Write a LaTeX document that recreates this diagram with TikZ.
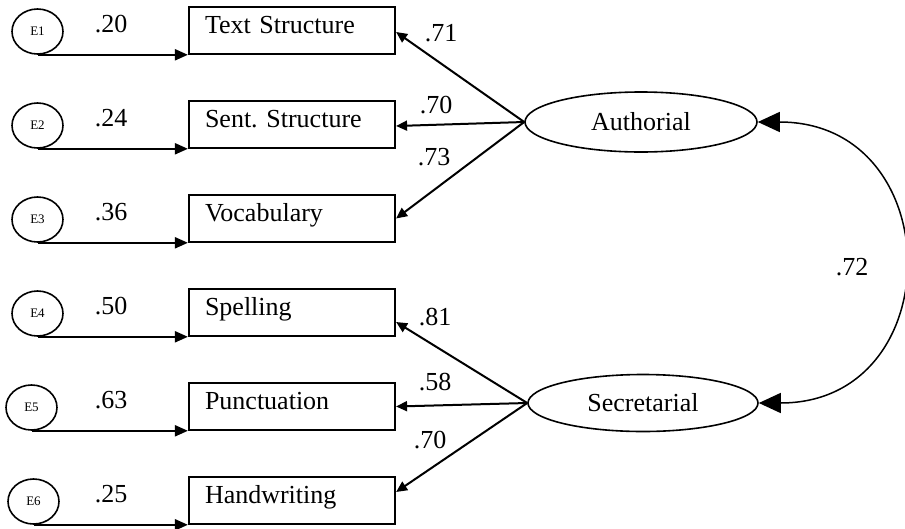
\documentclass[tikz,border=0pt]{standalone}
\usepackage{fontspec}
\setmainfont{Liberation Serif}
\usetikzlibrary{arrows.meta,shapes.geometric,calc}
\frenchspacing
\begin{document}
\begin{tikzpicture}[x=1pt,y=-1pt,
  every node/.style={font=\fontsize{26}{30}\selectfont},
  obs/.style={draw, line width=2.2pt, minimum width=206pt, minimum height=47pt,
    inner xsep=16pt, inner ysep=0pt, text width=174pt, align=left,
    text height=17pt, text depth=12pt},
  err/.style={draw, ellipse, line width=1.6pt, minimum width=51pt, minimum height=45pt,
    inner sep=0pt, font=\fontsize{13}{15}\selectfont},
  lat/.style={draw, ellipse, line width=1.6pt, inner sep=0pt},
  errarrow/.style={line width=2.2pt, -{Triangle[length=13pt,width=11pt]}},
  load/.style={line width=2pt, -{Triangle[length=11pt,width=10pt]}},
  cov/.style={line width=1.5pt,
    {Triangle[length=22pt,width=20pt]}-{Triangle[length=22pt,width=20pt]}},
  lbl/.style={inner sep=0pt}
]
\useasboundingbox (0,0) rectangle (905,528);

% observed indicators
\node[obs] (b1) at (292,30.5)  {Text Structure};
\node[obs] (b2) at (292,124.5) {Sent. Structure};
\node[obs] (b3) at (292,218.5) {Vocabulary};
\node[obs] (b4) at (292,312.5) {Spelling};
\node[obs] (b5) at (292,406.5) {Punctuation};
\node[obs] (b6) at (292,500.5) {Handwriting};

% error terms
\node[err] (e1) at (37.5,31.5)  {E1};
\node[err] (e2) at (37.5,125.5) {E2};
\node[err] (e3) at (37.5,219.5) {E3};
\node[err] (e4) at (37.5,313.5) {E4};
\node[err] (e5) at (31.5,407.5) {E5};
\node[err] (e6) at (33.5,501.5) {E6};

\foreach \i in {1,...,6}{
  \draw[errarrow] (e\i.south) -- (e\i.south -| b\i.west);
}

% error loadings
\node[lbl] (r1) at (111,24.5)  {.20};
\node[lbl] (r2) at (111,118.5) {.24};
\node[lbl] (r3) at (111,212.5) {.36};
\node[lbl] (r4) at (111,306.5) {.50};
\node[lbl] (r5) at (111,400.5) {.63};
\node[lbl] (r6) at (111,494.5) {.25};

% latent factors
\node[lat, minimum width=232pt, minimum height=60pt] (auth) at (641,122) {Authorial};
\node[lat, minimum width=230pt, minimum height=57pt] (sec) at (643,403) {Secretarial};

% factor loadings
\draw[load] (auth.west) -- ($(b1.east)+(0,1.5)$);
\draw[load] (auth.west) -- ($(b2.east)+(0,1.5)$);
\draw[load] (auth.west) -- ($(b3.east)+(0,0)$);
\draw[load] (sec.west) -- ($(b4.east)+(0,9.5)$);
\draw[load] (sec.west) -- ($(b5.east)+(0,0)$);
\draw[load] (sec.west) -- ($(b6.east)+(0,-8.5)$);

\node[lbl] (l1) at (441,33)  {.71};
\node[lbl] (l2) at (436,105) {.70};
\node[lbl] (l3) at (434,157) {.73};
\node[lbl] (l4) at (435,317) {.81};
\node[lbl] (l5) at (435,382) {.58};
\node[lbl] (l6) at (430,440) {.70};

% factor covariance
\draw[cov] (auth.east) .. controls +(192,0) and +(192,0) .. (sec.east);
\node[lbl] (c1) at (852,267) {.72};
\end{tikzpicture}
\end{document}
